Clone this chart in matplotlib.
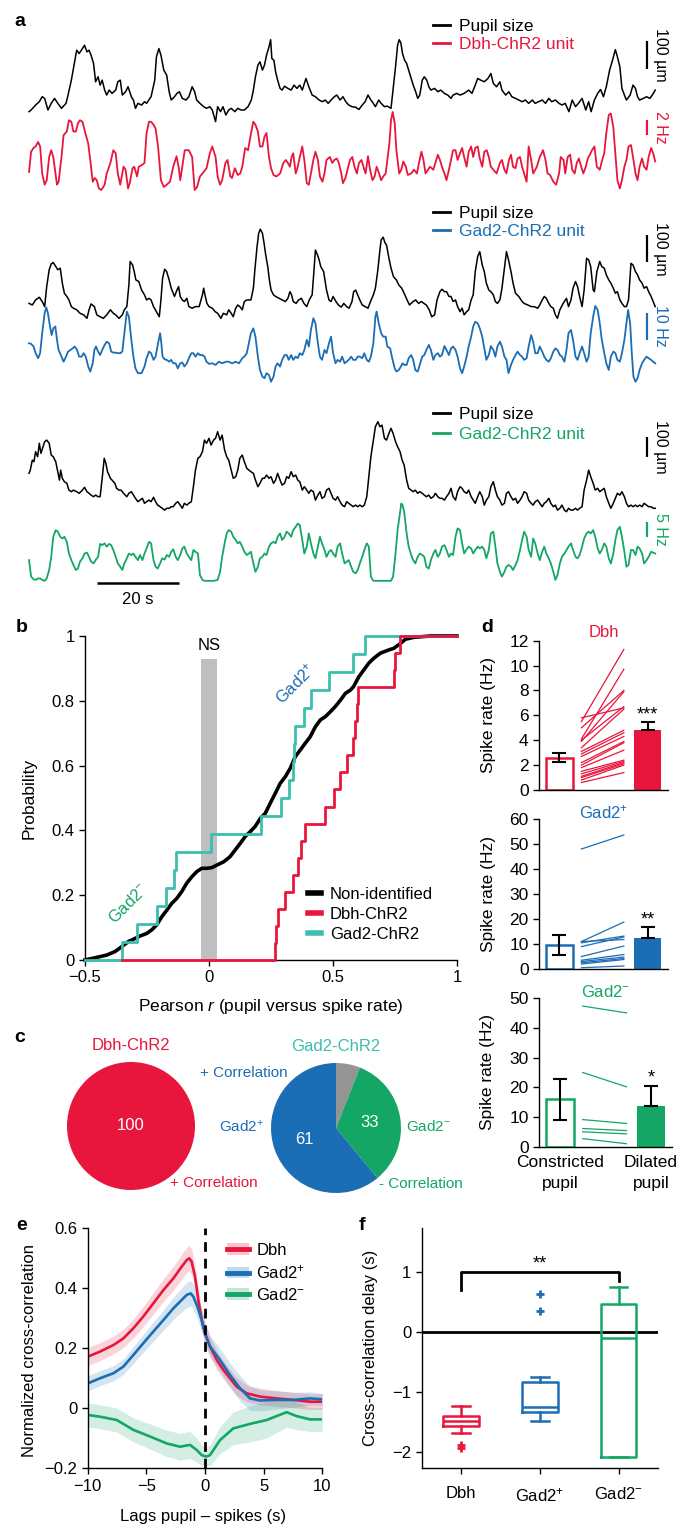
import numpy as np
import matplotlib
matplotlib.use("Agg")
import matplotlib.pyplot as plt
from matplotlib.lines import Line2D
from matplotlib.patches import Patch
from matplotlib.ticker import FuncFormatter

plt.rcParams.update({
    "font.family": "Liberation Sans",
    "font.size": 11,
    "mathtext.fontset": "custom",
    "mathtext.rm": "Liberation Sans",
    "mathtext.it": "Liberation Sans:italic",
    "mathtext.bf": "Liberation Sans:bold",
    "mathtext.default": "regular",
    "axes.linewidth": 1.0,
    "xtick.major.width": 1.0,
    "ytick.major.width": 1.0,
    "xtick.major.size": 4,
    "ytick.major.size": 4,
    "xtick.direction": "out",
    "ytick.direction": "out",
    "axes.spines.top": False,
    "axes.spines.right": False,
})

RED = "#e8163c"
BLUE = "#1b6db4"
GREEN = "#13a665"
TEAL = "#3bbfae"

# ---------------- panel a: (time s, pupil um) and (time s, rate Hz) ----------------
PUPIL_1 = [
    (0.0, 6), (0.5, 12), (1.6, 30), (2.5, 42), (3.2, 60), (3.8, 54), (4.6, 12), (5.4, 36), (6.2, 54), (7.0, 36),
    (7.9, 18), (9.0, 36), (9.4, 60), (10.3, 120), (11.1, 186), (11.6, 228), (12.2, 216), (13.0, 234), (13.5, 246), (14.1, 222),
    (14.6, 228), (15.1, 210), (15.7, 180), (16.2, 114), (16.8, 132), (17.3, 102), (17.8, 120), (18.4, 84), (18.9, 66), (19.5, 84),
    (20.2, 72), (21.1, 84), (21.6, 114), (22.2, 120), (22.7, 66), (23.5, 78), (24.1, 96), (24.9, 60), (25.4, 48), (25.9, 18),
    (26.5, 36), (27.4, 30), (28.1, 42), (28.6, 36), (29.7, 60), (30.6, 120), (31.0, 204), (31.6, 234), (32.1, 210), (32.8, 156),
    (33.5, 138), (34.1, 78), (34.6, 48), (35.4, 60), (36.0, 72), (36.6, 78), (37.3, 54), (38.2, 48), (38.9, 60), (39.7, 96),
    (40.3, 78), (40.8, 48), (41.6, 36), (42.5, 24), (43.2, 18), (44.0, 24), (44.6, 12), (45.4, -30), (45.9, 24), (46.6, 6),
    (47.2, 24), (47.9, -6), (48.6, 12), (49.2, 18), (50.1, 6), (50.8, 18), (51.6, 12), (52.4, 12), (53.3, 24), (54.1, 48),
    (54.6, 84), (55.1, 132), (55.7, 174), (56.2, 186), (56.8, 156), (57.3, 174), (57.8, 210), (58.4, 240), (58.8, 266), (59.1, 198),
    (59.6, 192), (60.0, 150), (60.5, 120), (61.1, 90), (61.6, 84), (62.2, 98), (63.0, 90), (63.8, 84), (64.5, 102), (65.2, 90),
    (65.9, 102), (66.5, 84), (67.4, 126), (68.1, 96), (68.9, 66), (69.7, 60), (70.6, 48), (71.4, 42), (72.1, 48), (72.8, 36),
    (73.5, 48), (74.3, 60), (74.9, 66), (75.7, 48), (76.4, 60), (77.1, 42), (77.8, 30), (78.6, 24), (79.5, 22), (80.3, 14),
    (81.1, 30), (81.8, 42), (82.5, 66), (83.2, 48), (83.8, 36), (84.3, 24), (85.1, 48), (85.7, 36), (86.5, 24), (87.2, 26),
    (88.1, 18), (88.5, 72), (89.2, 168), (89.7, 246), (90.1, 266), (90.5, 254), (90.9, 216), (91.4, 192), (91.9, 180), (92.4, 156),
    (93.0, 126), (93.5, 102), (94.1, 78), (94.6, 54), (95.1, 66), (95.7, 120), (96.2, 132), (96.8, 120), (97.3, 96), (97.8, 84),
    (98.7, 90), (99.5, 78), (100.2, 84), (101.1, 72), (101.9, 66), (102.7, 54), (103.2, 66), (104.1, 72), (104.9, 66), (105.9, 72),
    (107.0, 84), (107.8, 72), (108.6, 102), (109.2, 126), (109.9, 120), (110.8, 114), (111.7, 126), (112.4, 144), (113.0, 108), (113.8, 96),
    (114.6, 114), (115.1, 84), (116.0, 66), (116.8, 78), (117.5, 60), (118.4, 54), (119.2, 48), (120.0, 42), (120.8, 48), (121.6, 36),
    (122.5, 48), (123.2, 36), (124.0, 42), (124.9, 48), (125.7, 36), (126.5, 54), (127.2, 42), (128.1, 48), (129.0, 36), (129.7, 30),
    (130.5, 36), (131.4, 6), (132.2, 48), (133.0, 24), (133.7, 36), (134.6, 54), (135.5, 12), (136.2, 42), (136.8, 6), (137.6, 48),
    (138.4, 72), (139.1, 86), (139.8, 60), (140.5, 96), (141.3, 156), (141.9, 186), (142.7, 230), (143.2, 204), (143.8, 168), (144.3, 90),
    (144.9, 66), (145.4, 48), (146.3, 66), (147.0, 102), (147.6, 90), (148.1, 60), (148.6, 48), (149.5, 54), (150.3, 60), (151.1, 54),
    (151.7, 66), (152.4, 84),
]

RATE_1 = [
    (0.0, 2.4), (0.5, 5.1), (1.1, 5.6), (1.6, 5.8), (2.2, 6.4), (2.7, 5.8), (3.2, 2.2), (3.8, 0.7), (4.3, 1.3), (4.9, 4.4),
    (5.4, 5.3), (5.9, 4.4), (6.8, 0.7), (7.2, 1.1), (7.9, 4.4), (8.4, 7.3), (9.2, 7.8), (9.7, 9.3), (10.3, 9.1), (10.8, 7.8),
    (11.4, 7.8), (11.9, 8.9), (12.4, 9.3), (13.0, 9.1), (13.7, 7.6), (14.4, 6.2), (14.9, 4.0), (15.5, 1.1), (16.0, 1.6), (16.5, 1.3),
    (17.0, 0.2), (17.6, 0.0), (18.4, 0.7), (18.9, 2.2), (19.8, 3.6), (20.5, 5.3), (21.1, 4.9), (21.6, 2.2), (22.2, 0.7), (23.0, 3.1),
    (23.5, 2.7), (24.1, 0.2), (24.5, 0.9), (25.2, 2.9), (25.6, 3.1), (26.3, 1.8), (26.7, 3.1), (27.4, 3.3), (28.1, 3.6), (28.6, 7.6),
    (29.2, 9.1), (29.7, 9.1), (30.3, 8.7), (30.8, 8.2), (31.4, 5.8), (32.1, 1.3), (32.8, 0.4), (33.5, 0.7), (34.3, 1.1), (35.1, 3.1),
    (35.9, 4.5), (36.4, 3.1), (36.8, 1.3), (37.3, 3.1), (37.9, 5.3), (38.9, 5.3), (39.7, 4.4), (40.3, 0.0), (40.9, 0.4), (41.6, 1.8),
    (42.5, 2.4), (43.2, 2.9), (44.0, 4.9), (44.6, 5.8), (45.4, 4.4), (45.9, 1.8), (46.5, 0.7), (47.0, 1.3), (47.8, 3.6), (48.3, 4.0),
    (49.0, 1.8), (49.4, 1.6), (50.1, 2.9), (50.8, 2.0), (51.4, 2.2), (51.9, 3.1), (52.6, 5.6), (53.3, 5.3), (54.1, 7.8), (54.6, 9.1),
    (55.1, 8.7), (55.7, 7.8), (56.2, 5.8), (56.8, 5.8), (57.3, 7.1), (57.8, 7.6), (58.4, 4.4), (58.9, 2.9), (59.5, 2.0), (60.2, 1.8),
    (61.1, 2.2), (61.9, 3.6), (62.5, 4.0), (63.0, 3.6), (63.5, 3.1), (63.9, 4.4), (64.3, 4.9), (64.9, 2.2), (65.4, 3.1), (65.9, 4.4),
    (66.5, 5.8), (67.0, 4.0), (67.6, 0.9), (68.1, 0.7), (68.6, 2.2), (69.2, 4.0), (69.7, 5.1), (70.3, 4.0), (70.8, 1.8), (71.4, 1.1),
    (71.9, 2.2), (72.4, 4.0), (73.2, 4.4), (73.8, 3.6), (74.3, 4.0), (74.9, 4.2), (75.4, 3.6), (76.0, 2.2), (76.4, 0.9), (77.0, 1.6),
    (77.5, 2.7), (78.1, 4.0), (78.7, 4.4), (79.2, 3.1), (79.8, 2.2), (80.3, 3.6), (80.9, 4.0), (81.4, 3.1), (81.9, 2.2), (82.5, 4.5),
    (83.0, 2.7), (83.6, 1.3), (84.1, 1.8), (84.6, 3.1), (85.2, 2.2), (85.7, 1.3), (86.2, 1.8), (86.8, 2.2), (87.2, 4.0), (87.7, 6.2),
    (88.1, 9.3), (88.5, 10.4), (89.0, 8.9), (89.4, 5.3), (90.1, 2.2), (90.6, 2.7), (91.1, 3.8), (91.7, 3.1), (92.2, 2.0), (93.0, 2.2),
    (93.7, 2.7), (94.4, 2.2), (94.9, 3.6), (95.5, 5.1), (96.0, 4.0), (96.5, 2.2), (97.1, 2.7), (97.6, 3.1), (98.4, 2.7), (98.9, 3.6),
    (99.5, 4.7), (100.0, 4.0), (100.5, 3.1), (101.1, 2.2), (101.6, 1.3), (102.2, 2.7), (102.7, 4.0), (103.2, 5.3), (103.8, 5.3), (104.3, 4.0),
    (104.9, 4.9), (105.4, 5.6), (105.9, 4.4), (106.5, 3.1), (107.0, 5.1), (107.6, 5.8), (108.1, 4.4), (108.6, 5.6), (109.2, 5.8), (109.7, 4.2),
    (110.3, 3.1), (110.8, 5.1), (111.4, 5.3), (111.9, 4.4), (112.4, 3.1), (113.0, 2.7), (113.8, 2.2), (114.6, 3.6), (115.1, 4.0), (115.7, 2.7),
    (116.2, 2.2), (116.8, 4.0), (117.3, 4.7), (117.8, 3.1), (118.4, 2.9), (118.9, 4.2), (119.5, 4.4), (120.0, 3.1), (120.5, 2.2), (121.1, 1.1),
    (121.6, 5.8), (122.2, 4.0), (122.7, 2.2), (123.6, 3.1), (124.3, 4.4), (125.1, 5.3), (125.7, 4.0), (126.2, 2.2), (126.8, 2.0), (127.6, 1.1),
    (128.3, 0.7), (129.0, 2.2), (129.4, 4.4), (130.1, 4.0), (130.5, 2.2), (131.1, 4.4), (131.7, 4.7), (132.2, 2.7), (132.8, 2.2), (133.3, 3.6),
    (133.8, 4.2), (134.4, 3.1), (134.9, 2.2), (135.5, 3.1), (136.0, 4.2), (136.5, 4.7), (137.0, 5.3), (137.6, 5.8), (138.2, 3.1), (138.9, 2.7),
    (139.5, 4.0), (140.0, 4.9), (140.5, 7.6), (141.1, 10.0), (141.6, 10.2), (142.2, 8.4), (142.7, 4.9), (143.2, 1.3), (143.8, 0.2), (144.3, 1.3),
    (144.9, 3.1), (145.4, 4.0), (145.9, 5.8), (146.5, 6.0), (147.0, 4.4), (147.6, 2.2), (148.1, 1.3), (148.6, 3.1), (149.2, 4.2), (149.7, 3.1),
    (150.3, 2.7), (150.8, 4.4), (151.4, 5.6), (151.9, 4.9), (152.4, 3.8),
]

PUPIL_2_T = [
    0.0, 0.8, 1.6, 2.5, 3.2, 3.8, 4.3, 4.9, 5.4, 5.9,
    6.5, 7.0, 7.6, 8.1, 8.6, 9.2, 9.7, 10.3, 10.8, 11.6,
    12.4, 13.3, 14.1, 14.6, 15.1, 15.9, 16.5, 17.3, 18.1, 18.9,
    19.8, 20.5, 21.1, 21.9, 22.7, 23.2, 23.8, 24.3, 24.6, 25.2,
    25.6, 26.0, 26.7, 27.4, 28.1, 28.6, 29.2, 29.7, 30.3, 31.0,
    31.7, 32.1, 32.5, 33.0, 33.5, 34.1, 34.6, 35.4, 36.0, 36.4,
    36.8, 37.3, 37.8, 38.4, 38.9, 39.7, 40.5, 41.4, 42.2, 42.5,
    42.9, 43.3, 43.8, 44.6, 45.3, 45.9, 46.7, 47.3, 48.1, 48.6,
    49.2, 49.7, 50.3, 50.8, 51.3, 51.9, 52.4, 53.0, 53.5, 54.0,
    54.6, 55.0, 55.5, 55.9, 56.3, 56.8, 57.2, 57.6, 58.1, 58.5,
    58.9, 59.5, 60.0, 60.9, 61.6, 62.4, 63.0, 63.5, 63.9, 64.3,
    65.0, 65.6, 66.3, 66.9, 67.6, 68.2, 68.9, 69.3, 69.7, 70.2,
    70.6, 71.0, 71.7, 72.4, 73.0, 73.5, 74.0, 74.7, 75.3, 76.0,
    76.6, 77.3, 77.9, 78.6, 79.0, 79.5, 80.0, 80.5, 81.1, 81.8,
    82.5, 83.1, 83.8, 84.3, 84.9, 85.4, 85.7, 86.2, 86.6, 87.0,
    87.6, 88.1, 88.7, 89.4, 90.0, 90.7, 91.3, 92.0, 92.6, 93.5,
    94.1, 94.8, 95.5, 96.1, 96.7, 97.4, 98.0, 98.7, 99.3, 100.0,
    100.5, 101.1, 101.6, 102.2, 102.7, 103.2, 103.8, 104.3, 104.9, 105.4,
    105.9, 106.5, 107.0, 107.6, 108.1, 108.6, 109.2, 109.7, 110.3, 110.8,
    111.3, 111.9, 112.4, 113.0, 113.5, 114.0, 114.6, 115.1, 115.7, 116.2,
    116.7, 117.3, 117.8, 118.4, 119.2, 120.0, 120.5, 121.4, 122.2, 122.9,
    123.8, 124.3, 124.9, 125.4, 125.9, 126.5, 127.0, 127.6, 128.1, 128.6,
    129.2, 130.0, 130.8, 131.3, 131.9, 132.4, 133.0, 133.5, 134.0, 134.6,
    135.1, 135.7, 136.2, 136.7, 137.3, 137.6, 138.2, 138.9, 139.4, 140.0,
    140.5, 141.1, 141.6, 142.2, 142.7, 143.2, 143.8, 144.3, 144.9, 145.4,
    145.9, 146.5, 147.0, 147.6, 148.1, 148.6, 149.2, 149.7, 150.3, 150.8,
    151.4, 151.9, 152.4,
]
PUPIL_2_UM = [
    62, 56, 75, 85, 69, 50, 125, 188, 210, 215,
    200, 188, 194, 138, 100, 88, 75, 50, 44, 38,
    25, 19, 6, 38, 60, 50, 19, 12, 6, 19,
    38, 25, 19, 6, 19, 38, 50, 131, 219, 206,
    181, 150, 144, 112, 94, 75, 81, 75, 50, 31,
    12, 75, 156, 190, 181, 150, 119, 88, 112, 125,
    88, 75, 69, 81, 50, 44, 50, 50, 94, 119,
    88, 62, 50, 44, 31, 25, 6, 25, 19, 38,
    25, 12, 44, 56, 50, 38, 69, 75, 75, 75,
    119, 194, 275, 325, 340, 325, 288, 244, 200, 150,
    112, 94, 88, 81, 75, 69, 81, 106, 94, 69,
    62, 75, 81, 62, 50, 75, 94, 175, 262, 244,
    225, 200, 181, 112, 75, 69, 88, 69, 56, 48,
    62, 50, 44, 69, 106, 112, 94, 75, 56, 50,
    44, 69, 94, 119, 188, 262, 300, 310, 290, 281,
    231, 194, 162, 150, 131, 119, 100, 75, 56, 69,
    75, 62, 69, 62, 56, 38, 12, 19, 75, 106,
    115, 106, 106, 88, 88, 69, 75, 50, 31, 44,
    19, 31, 38, 75, 94, 181, 238, 256, 206, 181,
    138, 112, 106, 94, 69, 62, 75, 119, 194, 256,
    225, 181, 138, 100, 88, 69, 62, 56, 50, 50,
    44, 56, 75, 88, 81, 62, 50, 44, 19, 6,
    38, 62, 81, 50, 75, 119, 144, 125, 88, 50,
    112, 231, 225, 200, 112, 106, 181, 219, 200, 194,
    169, 150, 138, 119, 100, 106, 75, 62, 50, 50,
    75, 212, 206, 181, 169, 150, 138, 119, 125, 106,
    88, 69, 50,
]

RATE_2 = [
    (0.0, 15.0), (0.5, 14.8), (1.1, 13.8), (1.6, 11.3), (2.2, 9.4), (2.7, 11.3), (3.2, 18.8), (3.8, 26.3), (4.2, 28.5), (4.6, 26.3),
    (5.1, 21.3), (5.5, 18.1), (5.9, 20.6), (6.4, 21.3), (6.8, 16.3), (7.2, 12.5), (7.9, 10.0), (8.4, 8.1), (9.0, 10.0), (9.5, 11.9),
    (10.1, 12.5), (10.6, 13.1), (11.1, 13.8), (11.7, 12.5), (12.2, 10.0), (12.8, 10.0), (13.3, 11.3), (13.8, 10.0), (14.4, 6.3), (14.9, 4.4),
    (15.5, 7.5), (15.9, 12.5), (16.3, 13.8), (16.8, 11.9), (17.3, 10.6), (17.8, 12.5), (18.4, 14.4), (18.9, 15.6), (19.5, 15.0), (20.0, 11.9),
    (20.5, 11.5), (21.1, 11.5), (21.6, 11.3), (22.2, 11.3), (22.7, 11.9), (23.2, 18.8), (23.8, 26.9), (24.3, 25.0), (24.9, 16.3), (25.4, 10.0),
    (25.9, 5.6), (26.5, 3.8), (27.4, 3.8), (28.1, 6.3), (28.6, 9.4), (29.2, 11.9), (29.7, 11.3), (30.3, 8.8), (30.8, 10.0), (31.4, 15.0),
    (31.9, 18.8), (32.2, 15.0), (32.5, 10.0), (33.0, 9.0), (33.5, 8.8), (34.1, 8.1), (34.6, 8.8), (35.1, 7.5), (35.7, 7.5), (36.2, 5.6),
    (36.8, 7.5), (37.3, 7.8), (37.8, 6.3), (38.4, 7.5), (38.9, 9.4), (39.5, 11.3), (40.0, 11.3), (40.5, 10.0), (41.1, 11.3), (41.6, 10.6),
    (42.2, 10.6), (42.7, 10.0), (43.2, 8.1), (43.8, 7.3), (44.6, 7.5), (45.4, 6.9), (46.2, 8.1), (47.0, 7.5), (47.9, 8.1), (48.6, 8.1),
    (49.4, 7.5), (50.3, 8.1), (51.1, 7.5), (51.9, 9.4), (52.4, 10.0), (53.0, 11.3), (53.5, 15.0), (54.0, 18.8), (54.6, 20.6), (55.1, 17.5),
    (55.7, 10.0), (56.2, 5.0), (56.8, 2.5), (57.3, 1.9), (57.8, 3.8), (58.4, 3.1), (58.9, 0.6), (59.5, 2.5), (60.0, 6.3), (60.5, 7.5),
    (61.1, 6.3), (61.6, 8.8), (62.2, 10.6), (62.7, 10.6), (63.2, 8.8), (63.8, 10.6), (64.3, 8.8), (64.9, 10.0), (65.4, 9.4), (65.9, 11.3),
    (66.5, 10.6), (67.0, 12.5), (67.6, 16.3), (68.1, 13.8), (68.6, 20.0), (69.2, 24.4), (69.7, 22.5), (70.3, 15.0), (70.8, 10.0), (71.3, 8.8),
    (71.9, 12.5), (72.4, 11.3), (73.0, 15.0), (73.5, 17.5), (74.0, 11.3), (74.6, 7.5), (75.1, 8.8), (75.7, 8.1), (76.2, 10.0), (76.8, 7.5),
    (77.3, 8.1), (77.8, 8.8), (78.4, 10.0), (78.9, 8.8), (79.5, 8.8), (80.0, 10.0), (80.5, 10.0), (81.1, 9.4), (81.6, 11.3), (82.2, 8.8),
    (82.7, 8.1), (83.2, 10.0), (83.8, 15.0), (84.3, 25.0), (84.6, 26.9), (85.1, 22.5), (85.7, 18.8), (86.2, 17.5), (86.8, 17.5), (87.2, 13.8),
    (87.9, 13.1), (88.3, 10.0), (89.0, 5.6), (89.4, 4.4), (90.0, 5.0), (90.5, 6.3), (90.9, 7.5), (91.3, 6.9), (91.9, 6.9), (92.4, 9.4),
    (93.0, 10.6), (93.5, 8.8), (94.0, 5.0), (94.6, 4.4), (95.1, 6.9), (95.7, 10.0), (96.2, 10.6), (96.7, 12.5), (97.3, 14.4), (97.8, 12.5),
    (98.4, 8.8), (98.9, 10.6), (99.5, 11.3), (100.0, 10.0), (100.5, 10.6), (101.1, 14.0), (101.6, 12.5), (102.2, 10.6), (102.7, 13.1), (103.2, 13.8),
    (103.8, 12.5), (104.3, 10.0), (104.9, 5.6), (105.4, 3.8), (105.9, 6.3), (106.5, 10.0), (107.0, 13.8), (107.6, 17.5), (108.1, 21.3), (108.6, 23.1),
    (109.2, 22.5), (109.7, 20.6), (110.3, 17.5), (110.8, 13.1), (111.3, 8.8), (111.9, 10.6), (112.4, 14.0), (113.0, 12.5), (113.5, 10.0), (114.0, 13.8),
    (114.6, 15.6), (115.1, 13.8), (115.7, 10.0), (116.2, 8.8), (116.7, 3.8), (117.3, 6.9), (117.8, 8.8), (118.4, 10.6), (118.9, 11.9), (119.5, 10.6),
    (120.0, 10.0), (120.5, 8.8), (121.1, 9.4), (121.6, 13.8), (122.2, 18.1), (122.7, 15.6), (123.2, 11.3), (123.8, 11.3), (124.3, 13.8), (124.9, 11.9),
    (125.4, 10.0), (125.9, 8.8), (126.5, 8.1), (127.0, 9.4), (127.6, 11.9), (128.1, 13.1), (128.6, 12.5), (129.2, 10.6), (129.7, 10.0), (130.3, 8.1),
    (130.8, 12.5), (131.3, 18.8), (131.9, 20.0), (132.4, 16.3), (133.0, 10.0), (133.5, 8.8), (134.0, 11.3), (134.6, 13.8), (135.1, 11.3), (135.7, 8.1),
    (136.2, 10.0), (136.7, 18.8), (137.3, 25.0), (137.8, 29.0), (138.4, 27.5), (138.9, 22.5), (139.4, 16.3), (140.0, 11.3), (140.5, 7.5), (141.1, 5.0),
    (141.6, 10.0), (142.2, 11.9), (142.7, 11.3), (143.2, 8.8), (143.8, 8.1), (144.3, 11.3), (144.9, 16.3), (145.4, 22.5), (145.8, 27.5), (146.3, 22.5),
    (146.7, 11.3), (147.1, 2.5), (147.6, 0.6), (148.1, 1.9), (148.6, 5.0), (149.2, 7.5), (149.7, 8.8), (150.3, 10.0), (150.8, 9.4), (151.4, 8.8),
    (151.9, 8.1), (152.4, 7.5),
]

PUPIL_3 = [
    (0.0, 192), (0.3, 208), (0.8, 258), (1.2, 250), (1.6, 300), (2.1, 275), (2.5, 342), (2.9, 292), (3.4, 325), (3.8, 350),
    (4.3, 358), (4.9, 342), (5.4, 283), (5.9, 275), (6.5, 250), (7.0, 200), (7.4, 158), (7.7, 208), (8.1, 167), (8.6, 150),
    (9.2, 142), (9.7, 108), (10.3, 100), (10.8, 108), (11.6, 100), (12.2, 92), (13.0, 108), (13.5, 122), (14.1, 100), (14.6, 92),
    (15.1, 83), (15.7, 75), (16.2, 83), (16.8, 75), (17.3, 75), (17.8, 167), (18.3, 267), (18.7, 242), (19.1, 200), (19.8, 167),
    (20.2, 158), (20.9, 142), (21.3, 117), (21.9, 108), (22.4, 108), (23.0, 92), (23.8, 75), (24.3, 92), (24.9, 100), (25.4, 83),
    (25.9, 67), (26.5, 50), (27.0, 58), (27.6, 67), (28.1, 42), (28.6, 50), (29.2, 58), (29.7, 50), (30.3, 72), (30.8, 50),
    (31.3, 33), (31.9, 25), (32.4, 17), (33.0, 8), (33.5, 17), (34.1, 17), (34.6, 25), (35.1, 25), (35.7, 42), (36.2, 50),
    (36.8, 33), (37.3, 17), (37.8, 42), (38.4, 33), (38.9, 42), (39.5, 50), (40.0, 125), (40.5, 208), (41.1, 267), (41.6, 275),
    (42.2, 300), (42.7, 358), (43.2, 342), (43.8, 367), (44.3, 333), (44.9, 358), (45.4, 367), (45.9, 400), (46.5, 358), (47.0, 383),
    (47.6, 308), (48.1, 275), (48.6, 258), (49.2, 208), (49.7, 167), (50.3, 175), (50.8, 208), (51.3, 267), (51.9, 283), (52.4, 250),
    (53.0, 217), (53.5, 208), (54.0, 200), (54.6, 192), (55.1, 158), (55.7, 125), (56.2, 142), (56.8, 167), (57.3, 167), (57.8, 183),
    (58.4, 167), (58.9, 175), (59.5, 142), (60.0, 158), (60.5, 192), (61.1, 158), (61.6, 133), (62.2, 142), (62.7, 175), (63.2, 167),
    (63.8, 200), (64.3, 175), (64.9, 183), (65.4, 158), (65.9, 150), (66.5, 108), (67.0, 125), (67.6, 108), (68.1, 92), (68.6, 108),
    (69.2, 100), (69.7, 58), (70.3, 83), (70.8, 100), (71.3, 67), (71.9, 75), (72.4, 108), (73.0, 117), (73.5, 92), (74.0, 67),
    (74.6, 58), (75.1, 75), (75.7, 50), (76.2, 33), (76.8, 25), (77.3, 50), (77.8, 42), (78.4, 33), (78.9, 25), (79.5, 33),
    (80.0, 25), (80.5, 33), (81.1, 25), (81.6, 33), (82.2, 75), (82.7, 175), (83.2, 275), (83.8, 358), (84.3, 425), (84.9, 450),
    (85.4, 425), (85.9, 433), (86.5, 367), (87.0, 358), (87.6, 392), (88.1, 417), (88.6, 392), (89.2, 350), (89.7, 325), (90.3, 300),
    (90.8, 258), (91.3, 233), (91.9, 158), (92.4, 117), (93.0, 108), (93.5, 100), (94.0, 108), (94.6, 92), (95.1, 100), (95.7, 92),
    (96.2, 83), (96.7, 75), (97.3, 83), (97.8, 67), (98.4, 75), (98.9, 92), (99.5, 75), (100.0, 67), (100.5, 67), (101.1, 58),
    (101.6, 75), (102.2, 92), (102.7, 117), (103.2, 75), (103.8, 58), (104.3, 100), (104.9, 125), (105.4, 117), (105.9, 100), (106.5, 92),
    (107.0, 108), (107.6, 75), (108.1, 58), (108.6, 42), (109.2, 75), (109.7, 100), (110.3, 75), (110.8, 33), (111.3, 58), (111.9, 75),
    (112.4, 125), (113.0, 150), (113.5, 108), (114.0, 75), (114.6, 58), (115.1, 33), (115.7, 42), (116.2, 92), (116.7, 100), (117.3, 75),
    (117.8, 58), (118.4, 67), (118.9, 42), (119.5, 58), (120.0, 75), (120.5, 100), (121.1, 92), (121.6, 58), (122.2, 42), (122.7, 33),
    (123.2, 50), (123.8, 58), (124.3, 42), (124.9, 25), (125.4, 42), (125.9, 50), (126.5, 67), (127.0, 42), (127.6, 25), (128.1, 33),
    (128.6, 8), (129.2, 17), (129.7, 33), (130.3, 8), (130.8, 0), (131.3, 17), (131.9, 8), (132.4, 8), (133.0, 17), (133.5, 8),
    (134.0, 17), (134.6, 25), (135.1, 108), (135.7, 158), (136.2, 208), (136.7, 175), (137.3, 142), (137.8, 108), (138.4, 117), (138.9, 100),
    (139.4, 108), (140.0, 117), (140.5, 75), (141.1, 42), (141.6, 17), (142.2, 42), (142.7, 67), (143.2, 92), (143.8, 83), (144.3, 100),
    (144.9, 75), (145.4, 42), (145.9, 25), (146.5, 33), (147.0, 25), (147.6, 33), (148.1, 25), (148.6, 33), (149.2, 25), (149.7, 42),
    (150.3, 33), (150.8, 25), (151.4, 25), (151.9, 17), (152.4, 17),
]

RATE_3 = [
    (0.0, 7.2), (0.5, 1.7), (1.1, 0.8), (1.6, 0.6), (2.2, 1.1), (2.7, 1.1), (3.2, 0.6), (3.8, 0.3), (4.3, 1.1), (4.9, 3.9),
    (5.4, 8.3), (5.9, 15.0), (6.5, 17.2), (7.0, 16.7), (7.6, 15.0), (8.1, 14.4), (8.6, 15.0), (9.2, 13.3), (9.7, 9.4), (10.3, 7.2),
    (10.8, 5.6), (11.4, 3.9), (11.9, 4.4), (12.4, 6.7), (13.0, 7.8), (13.5, 9.4), (14.1, 9.7), (14.6, 8.3), (15.1, 6.7), (15.7, 6.1),
    (16.2, 7.2), (16.8, 8.3), (17.3, 12.6), (17.8, 12.2), (18.4, 12.8), (18.9, 11.7), (19.5, 12.6), (20.0, 12.2), (20.5, 10.6), (21.1, 8.3),
    (21.6, 6.1), (22.2, 5.0), (22.7, 3.9), (23.2, 6.1), (23.8, 7.8), (24.3, 9.4), (24.9, 8.9), (25.4, 9.4), (25.9, 8.3), (26.5, 7.2),
    (27.0, 8.9), (27.6, 7.2), (28.1, 9.4), (28.6, 11.1), (29.2, 13.3), (29.7, 12.8), (30.3, 7.2), (30.8, 5.0), (31.3, 4.4), (31.9, 6.1),
    (32.4, 7.8), (33.0, 7.4), (33.5, 8.9), (34.1, 8.3), (34.6, 10.0), (35.1, 10.8), (35.7, 8.3), (36.2, 7.2), (36.8, 8.9), (37.3, 11.1),
    (37.8, 11.7), (38.4, 9.4), (38.9, 8.3), (39.5, 7.2), (40.0, 10.6), (40.5, 10.0), (41.1, 9.4), (41.6, 2.2), (42.2, 0.6), (42.7, 0.3),
    (43.8, 0.3), (44.9, 0.3), (45.9, 0.6), (46.5, 3.3), (47.0, 8.3), (47.6, 12.8), (48.1, 16.1), (48.6, 17.2), (49.2, 16.7), (49.7, 15.0),
    (50.3, 13.9), (50.8, 12.8), (51.3, 13.3), (51.9, 11.7), (52.4, 10.0), (53.0, 8.9), (53.5, 9.4), (54.0, 10.0), (54.6, 6.1), (55.1, 3.3),
    (55.7, 5.0), (56.2, 7.8), (56.8, 8.3), (57.3, 9.4), (57.8, 8.9), (58.4, 11.7), (58.9, 12.8), (59.5, 13.3), (60.0, 12.8), (60.5, 15.0),
    (61.1, 16.1), (61.6, 13.9), (62.2, 15.0), (62.7, 16.7), (63.2, 16.1), (63.8, 15.0), (64.3, 17.2), (64.9, 18.3), (65.4, 19.4), (65.9, 18.9),
    (66.5, 13.9), (67.0, 9.4), (67.6, 11.7), (68.1, 16.1), (68.6, 12.8), (69.2, 9.4), (69.7, 7.8), (70.3, 11.7), (70.8, 15.0), (71.3, 12.8),
    (71.9, 10.6), (72.4, 8.3), (73.0, 10.0), (73.5, 10.6), (74.0, 9.4), (74.6, 8.3), (75.1, 11.7), (75.7, 12.8), (76.2, 9.4), (76.8, 6.1),
    (77.3, 6.7), (77.8, 7.2), (78.4, 5.0), (78.9, 3.3), (79.5, 2.8), (80.0, 3.9), (80.5, 6.1), (81.1, 8.3), (81.6, 10.6), (82.2, 12.8),
    (82.7, 11.7), (83.2, 1.7), (83.8, 0.3), (85.9, 0.3), (88.1, 0.3), (88.6, 1.7), (89.2, 9.4), (89.7, 17.2), (90.3, 23.3), (90.6, 26.1),
    (90.9, 25.6), (91.3, 23.3), (91.9, 16.1), (92.4, 11.7), (93.0, 8.9), (93.5, 7.2), (94.0, 6.1), (94.6, 8.3), (95.1, 9.4), (95.7, 8.9),
    (96.2, 8.3), (96.7, 5.0), (97.3, 4.4), (97.8, 7.2), (98.4, 9.4), (98.9, 10.6), (99.5, 8.3), (100.0, 9.4), (100.5, 11.7), (101.1, 12.2),
    (101.6, 10.6), (102.2, 8.3), (102.7, 9.4), (103.2, 8.9), (103.8, 15.0), (104.3, 17.8), (104.9, 17.2), (105.4, 12.8), (105.9, 9.4), (106.5, 10.8),
    (107.0, 11.7), (107.6, 11.1), (108.1, 9.4), (108.6, 10.6), (109.2, 11.7), (109.7, 11.1), (110.3, 11.7), (110.8, 10.6), (111.3, 7.8), (111.9, 10.6),
    (112.4, 16.1), (113.0, 16.7), (113.5, 11.7), (114.0, 6.1), (114.6, 3.3), (115.1, 1.7), (115.7, 3.3), (116.2, 5.0), (116.7, 5.6), (117.3, 5.0),
    (117.8, 3.9), (118.4, 5.6), (118.9, 7.2), (119.5, 10.6), (120.0, 13.9), (120.5, 16.7), (121.1, 15.0), (121.6, 10.6), (122.2, 8.3), (122.7, 14.4),
    (123.2, 12.8), (123.8, 9.4), (124.3, 7.2), (124.9, 10.0), (125.4, 11.7), (125.9, 9.4), (126.5, 7.8), (127.0, 6.1), (127.6, 3.3), (128.1, 0.6),
    (128.6, 2.2), (129.2, 6.1), (129.7, 8.3), (130.3, 9.4), (130.8, 10.6), (131.3, 11.7), (131.9, 12.8), (132.4, 10.6), (133.0, 8.3), (133.5, 7.8),
    (134.0, 8.9), (134.6, 11.7), (135.1, 14.4), (135.7, 16.1), (136.2, 16.7), (136.7, 16.1), (137.3, 17.2), (137.8, 15.0), (138.4, 11.1), (138.9, 9.4),
    (139.4, 10.6), (140.0, 12.8), (140.5, 11.7), (141.1, 7.8), (141.6, 6.1), (142.2, 9.4), (142.7, 13.9), (143.2, 17.2), (143.8, 18.3), (144.3, 15.0),
    (144.9, 10.0), (145.4, 5.0), (145.9, 5.6), (146.5, 10.6), (147.0, 10.6), (147.6, 8.9), (148.1, 11.7), (148.6, 11.1), (149.2, 9.4), (149.7, 6.1),
    (150.3, 7.2), (150.8, 8.3), (151.4, 10.0), (151.9, 9.7), (152.4, 9.4),
]

# ---------------- panel b: Pearson r of units ----------------
GAD2_R = [-0.349, -0.291, -0.211, -0.173, -0.141, -0.133, 0.009, 0.211, 0.291,
          0.321, 0.338, 0.341, 0.348, 0.382, 0.411, 0.482, 0.579, 0.631]
DBH_R = [0.267, 0.270, 0.278, 0.308, 0.338, 0.359, 0.372, 0.388, 0.469, 0.503,
         0.530, 0.557, 0.581, 0.587, 0.597, 0.601, 0.745, 0.752, 0.769]
NONID_R = [-0.5, -0.453, -0.413, -0.379, -0.352, -0.325, -0.305, -0.278, -0.251, -0.231,
           -0.211, -0.190, -0.170, -0.150, -0.130, -0.110, -0.090, -0.069, -0.049, -0.029,
           -0.009, 0.011, 0.032, 0.059, 0.085, 0.106, 0.126, 0.146, 0.166, 0.186,
           0.207, 0.227, 0.247, 0.267, 0.287, 0.308, 0.328, 0.348, 0.368, 0.388,
           0.408, 0.429, 0.449, 0.469, 0.489, 0.509, 0.530, 0.550, 0.570, 0.583,
           0.604, 0.624, 0.644, 0.664, 0.691, 0.725, 0.745, 0.772, 0.792, 0.826,
           0.893, 1.0]
NONID_P = [0.0, 0.008, 0.015, 0.026, 0.041, 0.057, 0.064, 0.074, 0.082, 0.093,
           0.108, 0.134, 0.154, 0.175, 0.190, 0.211, 0.237, 0.257, 0.273, 0.283,
           0.283, 0.285, 0.293, 0.303, 0.319, 0.340, 0.360, 0.381, 0.396, 0.412,
           0.437, 0.453, 0.484, 0.514, 0.545, 0.566, 0.592, 0.628, 0.648, 0.669,
           0.689, 0.720, 0.741, 0.751, 0.766, 0.782, 0.802, 0.823, 0.833, 0.844,
           0.874, 0.895, 0.916, 0.931, 0.947, 0.957, 0.962, 0.977, 0.990, 0.996,
           1.0, 1.0]
NS_WIDTH = 0.064
NS_TOP = 0.93

# ---------------- panel c: percentages ----------------
DBH_PIE = [100]
GAD2_PIE = [6, 33, 61]          # NS, Gad2-, Gad2+

# ---------------- panel d: spike rate (Hz), constricted vs dilated ----------------
D_DBH_CON = [5.8, 5.5, 5.0, 4.1, 4.0, 3.9, 3.4, 3.1, 2.9, 2.7, 2.2, 2.0, 1.8, 1.5, 1.3, 1.1, 1.0, 0.8, 0.6]
D_DBH_DIL = [6.6, 11.3, 8.0, 9.7, 6.7, 7.9, 6.5, 4.8, 4.6, 4.3, 3.9, 3.8, 3.2, 2.4, 2.3, 2.2, 2.1, 2.0, 1.4]
D_DBH_MEAN = [2.6, 4.8]
D_DBH_SEM = [0.38, 0.7]
D_GP_CON = [48.1, 11.0, 10.5, 9.0, 11.0, 5.0, 3.5, 3.0, 2.5, 2.0, 0.5]
D_GP_DIL = [53.7, 18.8, 13.2, 12.8, 11.8, 9.2, 5.8, 4.8, 4.2, 3.8, 1.2]
D_GP_MEAN = [9.6, 12.6]
D_GP_SEM = [4.0, 4.4]
D_GN_CON = [47.3, 25.0, 9.2, 6.2, 5.1, 2.8]
D_GN_DIL = [45.0, 20.2, 7.9, 5.5, 4.4, 1.1]
D_GN_MEAN = [16.0, 13.7]
D_GN_SEM = [6.9, 6.9]

# ---------------- panel e: cross-correlation ----------------
E_DBH_LAG = [-10, -8.95, -7.8, -6.96, -6.1, -5.26, -4.4, -3.55, -2.7, -1.99, -1.56, -1.34, -1.14, -0.85,
             -0.57, -0.28, 0.0, 0.43, 1.0, 1.56, 2.13, 2.7, 3.55, 4.69, 6.1, 7.53, 8.95, 10]
E_DBH_XC = [0.172, 0.189, 0.211, 0.233, 0.267, 0.306, 0.35, 0.394, 0.433, 0.472, 0.494, 0.5, 0.489, 0.439,
            0.361, 0.294, 0.25, 0.206, 0.161, 0.128, 0.1, 0.072, 0.05, 0.039, 0.033, 0.028, 0.022, 0.022]
E_DBH_SEM = [0.03, 0.03, 0.03, 0.03, 0.032, 0.034, 0.036, 0.038, 0.04, 0.042, 0.042, 0.042, 0.042, 0.04,
             0.038, 0.036, 0.034, 0.033, 0.032, 0.03, 0.03, 0.03, 0.028, 0.028, 0.026, 0.026, 0.026, 0.026]
E_GP_LAG = [-10, -8.95, -7.8, -6.96, -6.1, -5.26, -4.4, -3.55, -2.7, -1.99, -1.56, -1.22, -0.99,
            -0.65, -0.28, 0, 0.43, 1.28, 2.13, 2.98, 3.84, 4.69, 6.1, 7.53, 8.95, 10]
E_GP_XC = [0.083, 0.1, 0.117, 0.139, 0.178, 0.217, 0.256, 0.294, 0.333, 0.361, 0.378, 0.383, 0.372,
           0.339, 0.294, 0.25, 0.206, 0.161, 0.111, 0.067, 0.033, 0.026, 0.028, 0.028, 0.033, 0.03]
E_GP_SEM = [0.025, 0.025, 0.025, 0.026, 0.028, 0.03, 0.032, 0.034, 0.037, 0.04, 0.042, 0.042, 0.042,
            0.04, 0.038, 0.036, 0.036, 0.038, 0.04, 0.042, 0.04, 0.035, 0.03, 0.025, 0.022, 0.02]
E_GN_LAG = [-10, -8.95, -7.53, -6.1, -4.69, -3.27, -2.13, -1.28, -0.71, -0.28, 0.09, 0.43, 1.28, 2.41,
            3.84, 5.26, 6.1, 6.96, 7.81, 8.95, 10]
E_GN_XC = [-0.022, -0.028, -0.039, -0.072, -0.094, -0.117, -0.128, -0.122, -0.139, -0.156, -0.161,
           -0.156, -0.106, -0.067, -0.052, -0.039, -0.026, -0.013, -0.026, -0.037, -0.037]
E_GN_SEM = [0.04, 0.04, 0.04, 0.04, 0.042, 0.044, 0.045, 0.045, 0.04, 0.035, 0.03, 0.035, 0.045, 0.055,
            0.06, 0.06, 0.055, 0.05, 0.045, 0.04, 0.04]

# ---------------- panel f: cross-correlation delay (s) ----------------
F_GROUPS = ["Dbh", "Gad2$^{+}$", "Gad2$^{-}$"]
F_MED = [-1.48, -1.26, -0.11]
F_Q1 = [-1.57, -1.33, -2.09]
F_Q3 = [-1.41, -0.83, 0.47]
F_LO = [-1.68, -1.48, -2.09]
F_HI = [-1.24, -0.76, 0.74]
F_FLIERS = [[-1.89, -1.94], [0.63, 0.35], []]

# ---------------- figure ----------------
W, H = 690, 1525
fig = plt.figure(figsize=(W / 100, H / 100), dpi=100)


def add_ax(x0, y0, x1, y1):
    return fig.add_axes([x0 / W, 1 - y1 / H, (x1 - x0) / W, (y1 - y0) / H])


def nice(v, pos=None):
    return f"{v:g}".replace("-", "\u2212")


def panel_letter(x, y, s):
    fig.text(x / W, 1 - y / H, s, ha="center", va="center", fontsize=14, fontweight="bold")


# panel a
T_LIM = (-2.2, 156.0)


def trace_pair(box, pupil, rate, color, label, p_lim, r_lim, p_bar, r_bar, r_len, leg_top, leg_sp):
    axp = add_ax(*box)
    axr = add_ax(*box)
    for a in (axp, axr):
        a.set_xlim(*T_LIM)
        a.axis("off")
    axp.set_ylim(*p_lim)
    axr.set_ylim(*r_lim)
    t, v = np.asarray(pupil, dtype=float).T
    axp.plot(t, v, color="k", lw=1.1)
    t, v = np.asarray(rate, dtype=float).T
    axr.plot(t, v, color=color, lw=1.3)
    tb = 150.5
    axp.plot([tb, tb], [p_bar, p_bar + 100], color="k", lw=1.6, solid_capstyle="butt")
    axp.text(tb + 1.3, p_bar + 50, "100 µm", rotation=-90, ha="left", va="center", fontsize=11.5)
    axr.plot([tb, tb], [r_bar, r_bar + r_len], color=color, lw=1.6, solid_capstyle="butt")
    axr.text(tb + 1.3, r_bar + r_len / 2, f"{r_len:g} Hz", rotation=-90, ha="left", va="center",
             color=color, fontsize=11.5)
    hs = [Line2D([], [], color="k", lw=2), Line2D([], [], color=color, lw=2)]
    axr.legend(hs, ["Pupil size", label], loc="upper left", bbox_to_anchor=(433 / W, 1 - leg_top / H),
               bbox_transform=fig.transFigure, frameon=False, borderpad=0, borderaxespad=0,
               handlelength=1.0, handletextpad=0.5, labelspacing=leg_sp, labelcolor="linecolor",
               fontsize=12.5)
    return axp, axr


trace_pair((20, 30, 670, 195), PUPIL_1, RATE_1, RED, "Dbh-ChR2 unit",
           (-295, 301), (-0.67, 21.33), 161, 7.33, 2, 19, 0.15)
trace_pair((20, 210, 670, 400), list(zip(PUPIL_2_T, PUPIL_2_UM)), RATE_2, BLUE, "Gad2-ChR2 unit",
           (-300, 412), (-6.26, 65.0), 218, 16.4, 10, 206, 0.15)
axp3, _ = trace_pair((20, 400, 670, 615), PUPIL_3, RATE_3, GREEN, "Gad2-ChR2 unit",
                     (-516.5, 558.5), (-11.1, 60.6), 273.5, 14.9, 5, 407, 0.25)
axp3.plot([16.55, 36.55], [-356, -356], color="k", lw=1.8, solid_capstyle="butt")
axp3.text(26.55, -441, "20 s", ha="center", va="center", fontsize=12)

# panel b
axb = add_ax(85, 636, 457, 960)
axb.set_xlim(-0.5, 1)
axb.set_ylim(0, 1)
axb.bar(0, NS_TOP, width=NS_WIDTH, color="#bfbfbf", zorder=1)
axb.text(0, 0.972, "NS", ha="center", va="center", fontsize=12)
axb.plot(NONID_R, NONID_P, color="k", lw=2.6, zorder=3, clip_on=False)
g = np.sort(GAD2_R)
n = len(g)
axb.step(np.r_[-0.5, g, 1.0], np.r_[0, np.arange(1, n + 1) / n, 1.0], where="post",
         color=TEAL, lw=2, zorder=4, clip_on=False)
d = np.sort(DBH_R)
m = len(d)
axb.step(np.r_[g[0], d, 1.0], np.r_[0, np.arange(1, m + 1) / m, 1.0], where="post",
         color=RED, lw=2, zorder=5, clip_on=False)
axb.set_xticks([-0.5, 0, 0.5, 1])
axb.set_yticks([0, 0.2, 0.4, 0.6, 0.8, 1])
axb.xaxis.set_major_formatter(FuncFormatter(nice))
axb.yaxis.set_major_formatter(FuncFormatter(nice))
axb.tick_params(labelsize=12)
axb.set_ylabel("Probability", fontsize=12.5)
axb.yaxis.set_label_coords(-0.13, 0.5)
axb.set_xlabel("Pearson $\\mathit{r}$ (pupil versus spike rate)", fontsize=12.5)
axb.xaxis.set_label_coords(0.5, -0.115)
axb.text(0.348, 0.854, "Gad2$^{+}$", color=BLUE, rotation=45, ha="center", va="center", fontsize=12)
axb.text(-0.325, 0.175, "Gad2$^{-}$", color=GREEN, rotation=45, ha="center", va="center", fontsize=12)
hb = [Line2D([], [], color=c, lw=4) for c in ("k", RED, TEAL)]
axb.legend(hb, ["Non-identified", "Dbh-ChR2", "Gad2-ChR2"], loc="upper left",
           bbox_to_anchor=(308 / W, 1 - 887 / H), bbox_transform=fig.transFigure, frameon=False,
           borderpad=0, borderaxespad=0, handlelength=0.8, handletextpad=0.5, labelspacing=0.3, fontsize=12)

# panel c
axc1 = add_ax(67, 1062, 195, 1190)
axc1.pie(DBH_PIE, colors=[RED], startangle=90, counterclock=False)
axc1.set_xlim(-1, 1)
axc1.set_ylim(-1, 1)
axc1.text(0, 0, f"{DBH_PIE[0]}", color="white", ha="center", va="center", fontsize=12)
axc1.text(0, 1.25, "Dbh-ChR2", color=RED, ha="center", va="center", fontsize=12)
axc1.text(1.3, -0.89, "+ Correlation", color=RED, ha="center", va="center")

axc2 = add_ax(271, 1063, 401, 1193)
axc2.pie(GAD2_PIE, colors=["#949494", GREEN, BLUE], startangle=90, counterclock=False,
         autopct=lambda p: f"{p:.0f}" if p > 10 else "", pctdistance=0.52,
         textprops=dict(color="white", fontsize=12))
axc2.set_xlim(-1, 1)
axc2.set_ylim(-1, 1)
axc2.text(0, 1.26, "Gad2-ChR2", color=TEAL, ha="center", va="center", fontsize=12)
axc2.text(-1.42, 0.85, "+ Correlation", color=BLUE, ha="center", va="center")
axc2.text(-1.45, 0.02, "Gad2$^{+}$", color=BLUE, ha="center", va="center")
axc2.text(1.42, 0.02, "Gad2$^{-}$", color=GREEN, ha="center", va="center")
axc2.text(1.3, -0.86, "- Correlation", color=GREEN, ha="center", va="center")


# panel d
def spike_panel(box, con, dil, means, sems, color, ylim, yticks, star, star_y, title, title_y, xlabels):
    ax = add_ax(*box)
    ax.set_xlim(-0.23, 1.23)
    ax.set_ylim(*ylim)
    ax.bar(0, means[0], width=0.3, facecolor="white", edgecolor=color, lw=1.8, zorder=2)
    ax.bar(1, means[1], width=0.3, color=color, zorder=2)
    ax.errorbar(0, means[0], yerr=sems[0], color="k", lw=1.5, capsize=5, capthick=1.5, zorder=3)
    ax.errorbar(1, means[1], yerr=[[0], [sems[1]]], color="k", lw=1.5, capsize=5, capthick=1.5, zorder=3)
    for c, dl in zip(con, dil):
        ax.plot([0.25, 0.73], [c, dl], color=color, lw=0.9, zorder=2)
    ax.text(1, star_y, star, ha="center", va="baseline", fontsize=13)
    ax.text(0.5, title_y, title, color=color, ha="center", va="center", fontsize=12,
            transform=ax.get_xaxis_transform())
    ax.set_yticks(yticks)
    ax.yaxis.set_major_formatter(FuncFormatter(nice))
    ax.tick_params(labelsize=12.5)
    ax.set_ylabel("Spike rate (Hz)", fontsize=12.5)
    ax.yaxis.set_label_coords(-0.33, 0.5)
    if xlabels:
        ax.set_xticks([0, 1], ["Constricted\npupil", "Dilated\npupil"], fontsize=12.5, linespacing=1.45)
        ax.tick_params(axis="x", length=0, pad=6)
    else:
        ax.set_xticks([])
    return ax


spike_panel((539, 640.7, 668, 790), D_DBH_CON, D_DBH_DIL, D_DBH_MEAN, D_DBH_SEM, RED,
            (0, 12), range(0, 13, 2), "***", 5.7, "Dbh", 1.052, False)
spike_panel((539, 819.3, 668, 969), D_GP_CON, D_GP_DIL, D_GP_MEAN, D_GP_SEM, BLUE,
            (0, 60), range(0, 61, 10), "**", 17.7, "Gad2$^{+}$", 1.045, False)
spike_panel((539, 998, 672, 1147), D_GN_CON, D_GN_DIL, D_GN_MEAN, D_GN_SEM, GREEN,
            (0, 50), range(0, 51, 10), "*", 21.5, "Gad2$^{-}$", 1.04, True)

# panel e
axe = add_ax(87.7, 1228.3, 322.3, 1468.3)
axe.set_xlim(-10, 10)
axe.set_ylim(-0.2, 0.6)
handles = []
for lag, xc, sem, c in ((E_DBH_LAG, E_DBH_XC, E_DBH_SEM, RED),
                        (E_GP_LAG, E_GP_XC, E_GP_SEM, BLUE),
                        (E_GN_LAG, E_GN_XC, E_GN_SEM, GREEN)):
    lag, xc, sem = map(np.asarray, (lag, xc, sem))
    axe.fill_between(lag, xc - sem, xc + sem, color=c, alpha=0.18, lw=0)
    axe.plot(lag, xc, color=c, lw=1.9)
    handles.append((Patch(facecolor=c, alpha=0.25), Line2D([], [], color=c, lw=3.5)))
axe.axvline(0, color="k", lw=2, ls=(0, (3.5, 2.5)))
axe.set_xticks([-10, -5, 0, 5, 10])
axe.set_yticks([-0.2, 0, 0.2, 0.4, 0.6])
axe.xaxis.set_major_formatter(FuncFormatter(nice))
axe.yaxis.set_major_formatter(FuncFormatter(nice))
axe.tick_params(labelsize=12)
axe.set_ylabel("Normalized cross-correlation", fontsize=12)
axe.yaxis.set_label_coords(-0.215, 0.49)
axe.set_xlabel("Lags pupil \u2013 spikes (s)", fontsize=12)
axe.xaxis.set_label_coords(0.49, -0.17)
axe.legend(handles, ["Dbh", "Gad2$^{+}$", "Gad2$^{-}$"], loc="upper left",
           bbox_to_anchor=(227 / W, 1 - 1243 / H), bbox_transform=fig.transFigure, frameon=False,
           borderpad=0, borderaxespad=0, handlelength=1.3, handletextpad=0.45, labelspacing=0.32, fontsize=12)

# panel f
axf = add_ax(421.7, 1228, 658, 1468)
axf.set_xlim(0.5, 3.5)
axf.set_ylim(-2.27, 1.73)
axf.axhline(0, color="k", lw=2, zorder=1)
colors_f = [RED, BLUE, GREEN]
for i, c in enumerate(colors_f):
    st = dict(med=F_MED[i], q1=F_Q1[i], q3=F_Q3[i], whislo=F_LO[i], whishi=F_HI[i], fliers=F_FLIERS[i])
    lp = dict(color=c, lw=1.8)
    axf.bxp([st], positions=[i + 1], widths=0.45, capwidths=0.22, manage_ticks=False,
            boxprops=lp, whiskerprops=lp, capprops=lp, medianprops=lp,
            flierprops=dict(marker="+", markeredgecolor=c, markersize=6, markeredgewidth=2, linestyle="none"))
axf.plot([1, 1, 3, 3], [0.7, 1.0, 1.0, 0.85], color="k", lw=2)
axf.text(2, 1.06, "**", ha="center", va="baseline", fontsize=13)
axf.set_xticks([1, 2, 3], F_GROUPS)
axf.set_yticks([-2, -1, 0, 1])
axf.yaxis.set_major_formatter(FuncFormatter(nice))
axf.tick_params(labelsize=12)
axf.tick_params(axis="x", pad=9)
axf.set_ylabel("Cross-correlation delay (s)", fontsize=12)
axf.yaxis.set_label_coords(-0.185, 0.5)

panel_letter(20, 22, "a")
panel_letter(22, 628, "b")
panel_letter(20, 1038, "c")
panel_letter(487, 628, "d")
panel_letter(22, 1225, "e")
panel_letter(362, 1225, "f")

fig.savefig("out.png", dpi=100)
